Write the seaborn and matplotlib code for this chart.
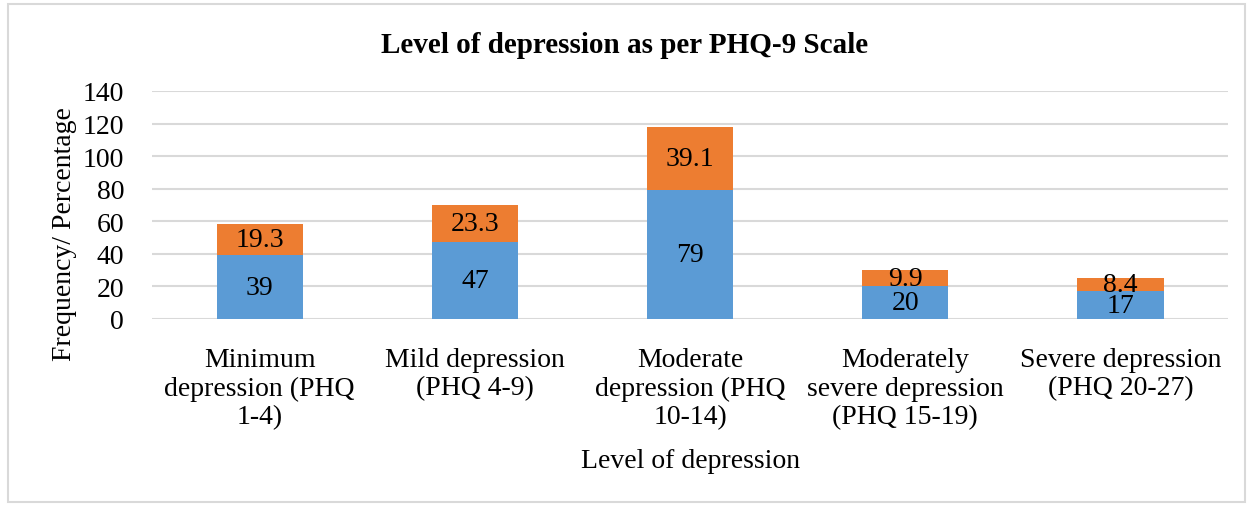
import matplotlib
matplotlib.use("Agg")
import matplotlib.pyplot as plt
import matplotlib.patches as patches
import seaborn as sns
import pandas as pd

# 数据
categories = [
    "Minimum\ndepression (PHQ\n1-4)",
    "Mild depression\n(PHQ 4-9)",
    "Moderate\ndepression (PHQ\n10-14)",
    "Moderately\nsevere depression\n(PHQ 15-19)",
    "Severe depression\n(PHQ 20-27)",
]
frequency = [39, 47, 79, 20, 17]
percentage = [19.3, 23.3, 39.1, 9.9, 8.4]

BLUE = "#5B9BD5"
ORANGE = "#ED7D31"
FS = 20

sns.set_style("white")
plt.rcParams['font.family'] = ['Liberation Serif', 'DejaVu Serif']
plt.rcParams['text.color'] = 'black'
plt.rcParams['axes.labelcolor'] = 'black'
plt.rcParams['xtick.color'] = 'black'
plt.rcParams['ytick.color'] = 'black'

df = pd.DataFrame({
    "category": categories,
    "Frequency": frequency,
    "Percentage": percentage,
})
df["total"] = df["Frequency"] + df["Percentage"]

fig = plt.figure(figsize=(12.49, 5.06), dpi=100)
ax = fig.add_axes([0.1217, 0.3676, 0.8616, 0.4506])

# 叠加柱: 先画总高度(橙), 再画底部(蓝)
sns.barplot(data=df, x="category", y="total", color=ORANGE, width=0.4,
            saturation=1, ax=ax, zorder=3, edgecolor="none")
sns.barplot(data=df, x="category", y="Frequency", color=BLUE, width=0.4,
            saturation=1, ax=ax, zorder=4, edgecolor="none")

# 数据标签
for i, (f, p) in enumerate(zip(frequency, percentage)):
    ax.text(i, f / 2, f"{f}", ha="center", va="center", fontsize=FS, zorder=5)
    ax.text(i, f + p / 2, f"{p}", ha="center", va="center", fontsize=FS, zorder=5)

ax.set_ylim(0, 140)
ax.set_yticks(range(0, 141, 20))
ax.set_xlim(-0.5, 4.5)
ax.yaxis.grid(True, color="#D9D9D9", linewidth=1.5, zorder=0)
ax.set_axisbelow(True)
for s in ax.spines.values():
    s.set_visible(False)
ax.tick_params(axis="both", length=0, labelsize=FS)
ax.tick_params(axis="y", pad=20)
ax.tick_params(axis="x", pad=20)

ax.set_xlabel("Level of depression", fontsize=FS)
ax.xaxis.set_label_coords(0.5, -0.565)
ax.set_ylabel("Frequency/ Percentage", fontsize=FS)
ax.yaxis.set_label_coords(-0.070, 0.375)

fig.text(0.5, 0.911, "Level of depression as per PHQ-9 Scale", ha="center",
         va="center", fontsize=21, fontweight="bold")

# 外框
fig.patches.append(patches.Rectangle((0.0065, 0.006), 0.99, 0.984,
                                     transform=fig.transFigure, fill=False,
                                     edgecolor="#D9D9D9", linewidth=1.5))

fig.savefig("out.png", dpi=100)
